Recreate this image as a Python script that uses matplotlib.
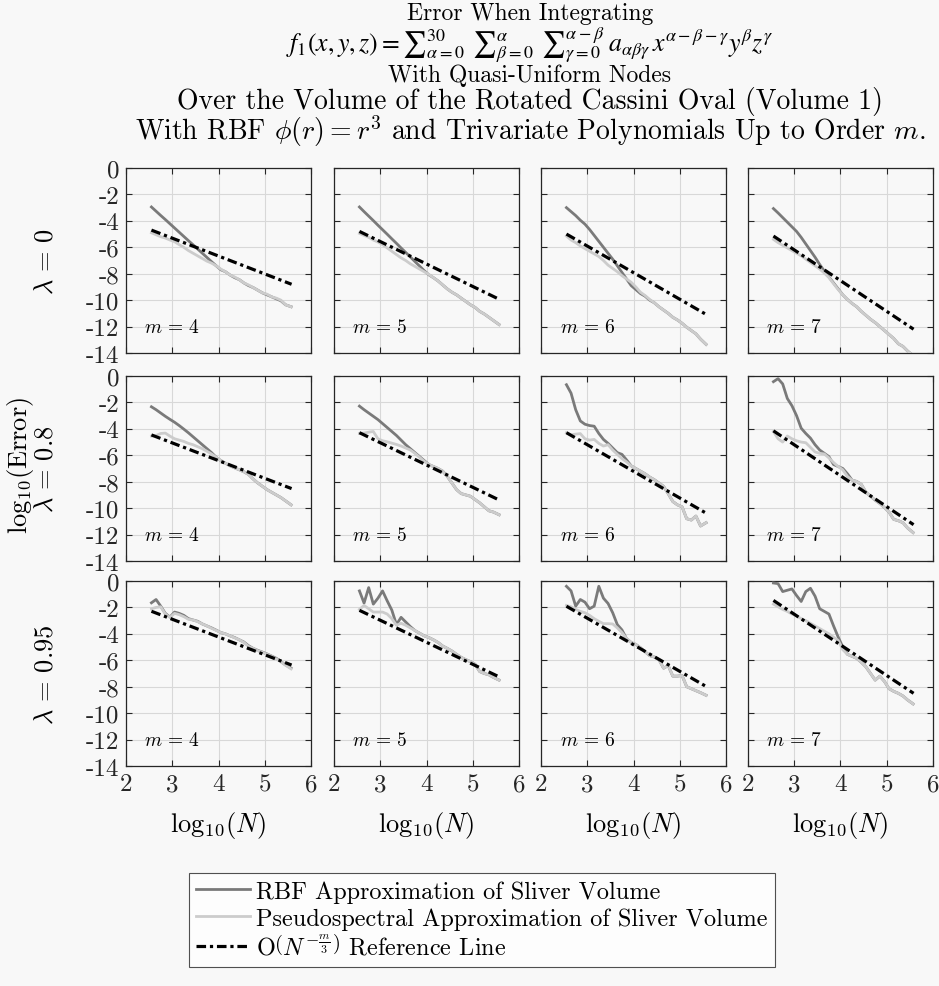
import numpy as np
import matplotlib
matplotlib.use("Agg")
import matplotlib.pyplot as plt
from matplotlib.lines import Line2D

plt.rcParams['font.family'] = 'serif'
plt.rcParams['font.serif'] = ['cmr10']
plt.rcParams['mathtext.fontset'] = 'cm'
plt.rcParams['axes.unicode_minus'] = False

# log10(N) sample positions shared by every panel
log_n = [2.55, 2.65, 2.75, 2.85, 2.95, 3.05, 3.15, 3.25, 3.35, 3.45, 3.55,
         3.65, 3.75, 3.85, 3.95, 4.05, 4.15, 4.25, 4.35, 4.45, 4.55, 4.65,
         4.75, 4.85, 4.95, 5.05, 5.15, 5.25, 5.35, 5.45, 5.57]

lambdas = ['0', '0.8', '0.95']
orders = [4, 5, 6, 7]

# lambda = 0
rbf_l0_m4 = [-2.95, -3.27, -3.59, -3.90, -4.22, -4.54, -4.86, -5.18, -5.50, -5.81, -6.13,
             -6.45, -6.77, -7.09, -7.40, -7.70, -7.85, -8.10, -8.30, -8.45, -8.70, -8.90,
             -9.05, -9.25, -9.45, -9.60, -9.75, -9.90, -10.05, -10.35, -10.50]
ps_l0_m4 = [-4.90, -5.05, -5.20, -5.30, -5.45, -5.58, -5.80, -6.00, -6.25, -6.45, -6.65,
            -6.85, -7.05, -7.20, -7.40, -7.65, -7.85, -8.10, -8.25, -8.45, -8.70, -8.85,
            -9.05, -9.25, -9.45, -9.55, -9.75, -9.85, -10.00, -10.35, -10.50]
rbf_l0_m5 = [-2.95, -3.30, -3.64, -3.98, -4.33, -4.67, -5.01, -5.36, -5.70, -6.05, -6.39,
             -6.73, -7.08, -7.42, -7.77, -8.08, -8.30, -8.55, -8.85, -9.15, -9.40, -9.60,
             -9.85, -10.10, -10.35, -10.55, -10.85, -11.05, -11.30, -11.55, -11.85]
ps_l0_m5 = [-4.95, -5.10, -5.25, -5.45, -5.60, -5.80, -6.05, -6.30, -6.55, -6.80, -7.00,
            -7.25, -7.45, -7.65, -7.85, -8.05, -8.30, -8.55, -8.85, -9.15, -9.40, -9.60,
            -9.85, -10.10, -10.35, -10.55, -10.85, -11.05, -11.30, -11.55, -11.85]
rbf_l0_m6 = [-3.00, -3.30, -3.60, -3.95, -4.25, -4.65, -5.10, -5.55, -6.00, -6.45, -6.90,
             -7.40, -7.90, -8.40, -8.90, -9.20, -9.50, -9.70, -10.00, -10.20, -10.50, -10.75,
             -11.00, -11.30, -11.50, -11.75, -12.05, -12.30, -12.55, -12.95, -13.35]
ps_l0_m6 = [-5.15, -5.45, -5.65, -5.90, -6.10, -6.30, -6.50, -6.70, -7.00, -7.35, -7.60,
            -7.85, -8.15, -8.40, -8.65, -9.00, -9.40, -9.65, -9.95, -10.20, -10.50, -10.75,
            -11.00, -11.30, -11.50, -11.75, -12.05, -12.30, -12.55, -12.95, -13.35]
rbf_l0_m7 = [-3.07, -3.40, -3.75, -4.10, -4.45, -4.80, -5.25, -5.75, -6.25, -6.75, -7.30,
             -7.80, -8.25, -8.70, -9.15, -9.60, -9.95, -10.25, -10.50, -10.85, -11.15, -11.45,
             -11.70, -12.00, -12.30, -12.60, -12.90, -13.30, -13.50, -13.85, -14.20]
ps_l0_m7 = [-5.40, -5.65, -5.85, -6.05, -6.25, -6.45, -6.65, -6.90, -7.15, -7.40, -7.65,
            -7.95, -8.30, -8.75, -9.20, -9.60, -9.95, -10.25, -10.50, -10.85, -11.15, -11.45,
            -11.70, -12.00, -12.30, -12.60, -12.90, -13.30, -13.50, -13.85, -14.20]

# lambda = 0.8
rbf_l8_m4 = [-2.33, -2.55, -2.80, -3.05, -3.28, -3.50, -3.75, -4.02, -4.30, -4.60, -4.90,
             -5.20, -5.50, -5.80, -6.15, -6.40, -6.60, -6.80, -6.95, -7.10, -7.25, -7.45,
             -7.80, -8.10, -8.35, -8.60, -8.80, -9.00, -9.20, -9.45, -9.75]
ps_l8_m4 = [-4.55, -4.50, -4.35, -4.32, -4.55, -4.75, -4.85, -4.95, -5.10, -5.20, -5.35,
            -5.50, -5.70, -5.90, -6.15, -6.40, -6.60, -6.80, -6.95, -7.10, -7.25, -7.45,
            -7.80, -8.10, -8.35, -8.60, -8.80, -9.00, -9.20, -9.45, -9.75]
rbf_l8_m5 = [-2.28, -2.55, -2.80, -3.05, -3.30, -3.60, -3.90, -4.20, -4.50, -4.85, -5.20,
             -5.50, -5.80, -6.10, -6.40, -6.70, -6.85, -7.00, -7.20, -7.60, -8.10, -8.60,
             -8.90, -9.00, -9.10, -9.35, -9.60, -9.90, -10.20, -10.30, -10.50]
ps_l8_m5 = [-4.35, -4.32, -4.25, -4.20, -4.75, -4.90, -4.98, -5.08, -5.18, -5.30, -5.45,
            -5.60, -5.85, -6.15, -6.45, -6.70, -6.85, -7.00, -7.20, -7.60, -8.10, -8.60,
            -8.90, -9.00, -9.10, -9.35, -9.60, -9.90, -10.20, -10.30, -10.50]
rbf_l8_m6 = [-0.66, -1.30, -2.55, -3.40, -3.65, -3.75, -3.80, -4.35, -4.80, -5.10, -5.45,
             -5.80, -5.93, -6.35, -6.80, -7.00, -7.20, -7.40, -7.65, -7.85, -8.10, -8.35,
             -8.90, -9.50, -9.75, -9.90, -10.80, -10.90, -10.60, -11.35, -11.10]
ps_l8_m6 = [-4.30, -4.45, -4.40, -4.36, -4.75, -4.85, -4.80, -5.10, -5.30, -5.20, -5.60,
            -5.93, -6.25, -6.50, -6.80, -7.00, -7.20, -7.40, -7.65, -7.85, -8.10, -8.35,
            -8.90, -9.50, -9.75, -9.90, -10.80, -10.90, -10.60, -11.35, -11.10]
rbf_l8_m7 = [-0.43, -0.20, -0.60, -1.70, -2.25, -3.00, -3.95, -4.35, -4.70, -5.20, -5.60,
             -5.85, -6.10, -6.70, -6.85, -7.00, -7.40, -7.88, -7.98, -8.20, -8.80, -9.10,
             -9.40, -9.65, -9.95, -10.30, -10.85, -10.95, -11.10, -11.50, -11.85]
ps_l8_m7 = [-4.20, -4.75, -5.00, -4.54, -4.75, -4.90, -5.00, -5.05, -5.40, -5.75, -5.85,
            -5.90, -6.20, -6.55, -6.85, -7.10, -7.60, -7.88, -7.98, -8.20, -8.80, -9.10,
            -9.40, -9.65, -9.95, -10.30, -10.85, -10.95, -11.10, -11.50, -11.85]

# lambda = 0.95
rbf_l95_m4 = [-1.65, -1.40, -1.90, -2.45, -2.73, -2.35, -2.45, -2.60, -2.85, -2.95, -3.05,
              -3.25, -3.40, -3.55, -3.72, -3.90, -4.00, -4.15, -4.28, -4.45, -4.62, -4.90,
              -5.10, -5.25, -5.38, -5.52, -5.68, -5.85, -6.10, -6.35, -6.60]
ps_l95_m4 = [-2.10, -2.00, -1.95, -2.50, -2.75, -2.45, -2.55, -2.70, -2.90, -2.95, -3.08,
             -3.25, -3.40, -3.58, -3.74, -3.90, -4.00, -4.15, -4.30, -4.45, -4.65, -4.95,
             -5.10, -5.28, -5.40, -5.55, -5.70, -5.90, -6.12, -6.38, -6.65]
rbf_l95_m5 = [-0.75, -1.67, -0.50, -1.75, -1.30, -0.75, -1.50, -2.20, -3.30, -2.75, -3.10,
              -3.45, -3.75, -3.95, -4.15, -4.28, -4.45, -4.65, -4.92, -5.10, -5.30, -5.55,
              -5.78, -5.95, -6.10, -6.30, -6.85, -7.00, -7.10, -7.30, -7.50]
ps_l95_m5 = [-2.15, -1.85, -2.10, -2.35, -2.35, -2.35, -2.50, -2.85, -3.35, -3.20, -3.35,
             -3.55, -3.75, -3.95, -4.15, -4.28, -4.45, -4.65, -4.92, -5.10, -5.30, -5.55,
             -5.78, -5.95, -6.10, -6.30, -6.85, -7.00, -7.10, -7.30, -7.50]
rbf_l95_m6 = [-0.40, -0.75, -1.90, -1.40, -1.60, -2.10, -1.90, -0.40, -1.30, -1.70, -2.40,
              -3.30, -3.70, -4.37, -4.65, -4.80, -5.05, -5.35, -5.65, -5.75, -5.95, -6.60,
              -6.40, -7.20, -7.20, -7.15, -8.00, -8.15, -8.30, -8.45, -8.65]
ps_l95_m6 = [-1.85, -1.95, -2.15, -2.30, -2.40, -2.60, -2.85, -3.05, -3.23, -3.23, -3.25,
             -3.55, -3.90, -4.35, -4.65, -4.80, -5.05, -5.35, -5.65, -5.75, -5.95, -6.60,
             -6.40, -7.20, -7.20, -7.15, -8.00, -8.15, -8.30, -8.45, -8.65]
rbf_l95_m7 = [-0.15, -0.20, -0.80, -0.70, -0.60, -1.10, -1.55, -0.80, -0.55, -1.15, -2.10,
              -2.30, -2.50, -3.40, -4.24, -5.00, -5.55, -5.70, -5.85, -6.15, -6.50, -7.00,
              -7.50, -7.20, -7.60, -8.15, -8.35, -8.50, -8.70, -9.00, -9.30]
ps_l95_m7 = [-1.75, -1.95, -2.15, -2.30, -2.50, -2.65, -2.85, -3.00, -3.20, -3.40, -3.60,
             -3.80, -4.00, -4.25, -4.50, -5.20, -5.55, -5.70, -5.85, -6.15, -6.50, -7.00,
             -7.50, -7.20, -7.60, -8.15, -8.35, -8.50, -8.70, -9.00, -9.30]

rbf_err = [[rbf_l0_m4, rbf_l0_m5, rbf_l0_m6, rbf_l0_m7],
           [rbf_l8_m4, rbf_l8_m5, rbf_l8_m6, rbf_l8_m7],
           [rbf_l95_m4, rbf_l95_m5, rbf_l95_m6, rbf_l95_m7]]
ps_err = [[ps_l0_m4, ps_l0_m5, ps_l0_m6, ps_l0_m7],
          [ps_l8_m4, ps_l8_m5, ps_l8_m6, ps_l8_m7],
          [ps_l95_m4, ps_l95_m5, ps_l95_m6, ps_l95_m7]]

# O(N^{-m/3}) reference line end points
ref_x = [2.55, 5.58]
ref_y = [[[-4.70, -8.80], [-4.80, -9.95], [-5.00, -11.10], [-5.15, -12.20]],
         [[-4.46, -8.52], [-4.29, -9.40], [-4.29, -10.40], [-4.15, -11.25]],
         [[-2.29, -6.36], [-2.22, -7.27], [-1.91, -8.00], [-1.47, -8.50]]]

x_ticks = [2, 3, 4, 5, 6]
y_ticks = [0, -2, -4, -6, -8, -10, -12, -14]

RBF_COLOR = '#7a7a7a'
PS_COLOR = '#cccccc'
BG = '#f8f8f8'
REF_DASH = (0, (3.0, 1.2, 1.0, 1.2))

W, H = 939, 987
fig = plt.figure(figsize=(W / 100, H / 100), dpi=100, facecolor=BG)

col_left = [126, 334, 541, 748]
row_top = [169, 377, 582]
ax_w, ax_h = 185, 185

for r in range(3):
    for c in range(4):
        ax = fig.add_axes([col_left[c] / W, 1 - (row_top[r] + ax_h) / H, ax_w / W, ax_h / H])
        ax.set_facecolor(BG)
        ax.plot(log_n, rbf_err[r][c], color=RBF_COLOR, lw=2.0, zorder=3)
        ax.plot(log_n, ps_err[r][c], color=PS_COLOR, lw=2.0, zorder=4)
        ax.plot(ref_x, ref_y[r][c], color='black', lw=2.3, linestyle=REF_DASH, zorder=5)
        ax.set_xlim(2, 6)
        ax.set_ylim(-14, 0)
        ax.set_xticks(x_ticks)
        ax.set_yticks(y_ticks)
        ax.grid(True, color='#d8d8d8', lw=0.8)
        ax.set_axisbelow(True)
        ax.tick_params(direction='in', length=4, width=0.8, top=True, right=True,
                       labelsize=18, colors='#262626', pad=5)
        for s in ax.spines.values():
            s.set_color('#262626')
            s.set_linewidth(0.9)
        if c == 0:
            ax.set_yticklabels([str(v) for v in y_ticks])
        else:
            ax.set_yticklabels([])
        if r == 2:
            ax.set_xticklabels([str(v) for v in x_ticks])
            ax.set_xlabel(r'$\mathrm{log}_{10}(N)$', fontsize=19, labelpad=10)
        else:
            ax.set_xticklabels([])
        ax.text(2.4, -12, r'$m\,=\,%d$' % orders[c], fontsize=14, ha='left', va='center')

# title block (baseline positions in pixels from the top)
title_lines = [
    (20, 'Error When Integrating', 17, 'cm'),
    (52, r'$f_1(x,y,z) = {\sum}_{\alpha=0}^{30}\;\, {\sum}_{\beta=0}^{\alpha}\;\, {\sum}_{\gamma=0}^{\alpha-\beta}\;'
         r' a_{\alpha\beta\gamma}\, x^{\alpha-\beta-\gamma} y^{\beta} z^{\gamma}$', 18.5, 'stix'),
    (82, 'With Quasi-Uniform Nodes', 17, 'cm'),
    (109, 'Over the Volume of the Rotated Cassini Oval (Volume 1)', 20, 'cm'),
    (140, r'With RBF $\phi(r) = r^3$ and Trivariate Polynomials Up to Order $m$.', 20, 'cm'),
]
for yy, txt, fs, mf in title_lines:
    fig.text(530 / W, 1 - yy / H, txt, fontsize=fs, ha='center', va='baseline',
             math_fontfamily=mf)

# row labels
for r, lam in enumerate(lambdas):
    yc = row_top[r] + ax_h / 2
    fig.text(46 / W, 1 - yc / H, r'$\lambda\,=\,%s$' % lam, fontsize=19,
             rotation=90, ha='center', va='center')
fig.text(20 / W, 1 - 465 / H, r'$\mathrm{log}_{10}(\mathrm{Error})$', fontsize=19,
         rotation=90, ha='center', va='center')

handles = [Line2D([], [], color=RBF_COLOR, lw=2.0),
           Line2D([], [], color=PS_COLOR, lw=2.0),
           Line2D([], [], color='black', lw=2.3, linestyle=REF_DASH)]
labels = ['RBF Approximation of Sliver Volume',
          'Pseudospectral Approximation of Sliver Volume',
          r'$\mathrm{O}\left(N^{-\frac{m}{3}}\right)$ Reference Line']
leg = fig.legend(handles, labels, loc='center', bbox_to_anchor=(482 / W, 1 - 921 / H),
                 fontsize=17.5, frameon=True, fancybox=False, handlelength=2.2,
                 handletextpad=0.25, labelspacing=0.2, borderpad=0.3, borderaxespad=0)
leg.get_frame().set_edgecolor('#262626')
leg.get_frame().set_facecolor('white')
leg.get_frame().set_linewidth(0.8)

fig.savefig('out.png', dpi=100, facecolor=BG)
